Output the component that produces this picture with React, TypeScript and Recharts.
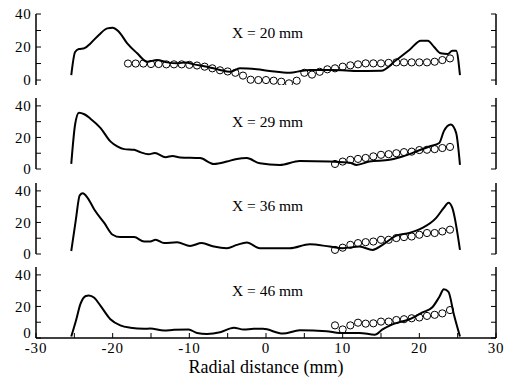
import React from "react";
import {
  ComposedChart,
  Line,
  Scatter,
  XAxis,
  YAxis,
  Customized,
} from "recharts";

const xTicks = [-30, -25, -20, -15, -10, -5, 0, 5, 10, 15, 20, 25, 30];
const yTicks = [0, 10, 20, 30, 40];
const panelLabels = ["X = 20 mm", "X = 29 mm", "X = 36 mm", "X = 46 mm"];
const axisTitle = "Radial distance (mm)";

// computed profiles (solid lines)
const simX1 = [-25.4, -24.9, -24.4, -23.7, -22.9, -21.8, -20.7, -20.0, -19.2, -18.1, -16.8, -15.5, -14.2, -12.9, -11.6, -10.5, -9.4, -7.7, -6.0, -4.7, -3.4, -1.2, 0.5, 3.1, 4.8, 5.7, 8.7, 12.2, 15.0, 17.0, 18.7, 20.2, 21.1, 21.9, 22.8, 23.7, 24.3, 24.8, 25.3];
const simY1 = [3, 17, 18.8, 19.2, 22.2, 27.3, 31.3, 31.7, 29.3, 22.2, 16.2, 11.1, 12.1, 10.7, 10.1, 10.7, 9.5, 8.1, 6.1, 5, 7.1, 6.5, 5.5, 4.4, 5.7, 6.1, 6.1, 5.5, 5.6, 12.1, 18.2, 23.8, 23.8, 20.2, 16.2, 15.8, 17.8, 17.8, 3];

const simX2 = [-25.4, -24.9, -24.4, -23.7, -22.9, -21.6, -20.3, -19.4, -18.5, -17.2, -16.4, -15.3, -14.5, -13.1, -12.2, -11.2, -8.6, -6.8, -5.1, -3.8, -2.5, -0.8, 1.8, 4.4, 8.3, 10.9, 11.8, 13.5, 16.1, 17.8, 19.6, 21.3, 22.6, 23.2, 24.1, 24.8, 25.3];
const simY2 = [3.2, 28.2, 35.7, 34.7, 31.9, 26.1, 17.5, 14.3, 12.6, 12.2, 10.7, 9.4, 10.1, 7.5, 8.3, 7.3, 6.9, 3.2, 4.7, 6.4, 6.9, 3.6, 2.6, 5.1, 4.7, 4.0, 2.6, 4.7, 5.8, 7.9, 11.1, 14.3, 16.5, 24, 28.2, 22.9, 2.6];

const simX3 = [-25.4, -24.8, -24.3, -23.9, -23.3, -22.4, -21.1, -20.0, -19.0, -17.2, -15.9, -15.1, -14.4, -13.3, -11.6, -9.9, -8.4, -6.8, -5.1, -3.8, -2.5, -0.8, 3.1, 5.7, 8.3, 10.0, 12.2, 13.9, 15.2, 17.0, 18.7, 20.4, 22.2, 23.2, 23.8, 24.3, 25.3];
const simY3 = [1.9, 21.8, 37.2, 38.5, 35.8, 28.2, 19.7, 12.2, 10.7, 10.7, 7.9, 7.9, 9.0, 6.9, 7.5, 5.1, 6.9, 4.7, 3.7, 5.8, 7.3, 3.7, 3.7, 6.2, 4.7, 3.7, 4.7, 2.6, 5.8, 11.6, 13.3, 16.5, 22.9, 29.3, 32.5, 29.3, 2.6];

const simX4 = [-25.4, -24.8, -24.2, -23.5, -23.1, -22.4, -21.6, -20.3, -19.0, -17.7, -15.9, -15.1, -13.3, -12.0, -10.1, -9.0, -7.7, -6.0, -4.2, -2.9, -1.6, -0.4, 2.2, 4.4, 7.9, 9.6, 12.2, 14.2, 15.2, 16.5, 18.7, 20.4, 21.7, 22.6, 23.2, 23.8, 24.5, 25.3];
const simY4 = [1.0, 10.8, 21.6, 26.6, 27.0, 25.5, 20.5, 11.9, 8.0, 6.5, 5.8, 6.0, 4.7, 5.2, 5.4, 3.2, 2.6, 3.6, 6.5, 5.4, 5.8, 5.8, 2.8, 4.9, 4.3, 3.2, 3.2, 2.1, 5.4, 8.6, 11.9, 16.2, 19.5, 26.0, 30.9, 29.2, 15.1, 1.0];

// measurements (open circles)
const expX1 = [-18, -17, -16, -15, -14, -13, -12, -11, -10, -9, -8, -7, -6, -5, -4, -3, -2, -1, 0, 1, 2, 3, 4, 5, 6, 7, 8, 9, 10, 11, 12, 13, 14, 15, 16, 17, 18, 19, 20, 21, 22, 23, 24];
const expY1 = [10, 10, 10, 9.7, 9.7, 9.5, 9.5, 9.5, 9.2, 8.8, 8.1, 7.1, 5.9, 5.2, 4.4, 2.7, 0.2, 0, 0, -0.4, -1, -2, -0.4, 4.4, 3.3, 5, 6.5, 7.1, 8.1, 8.9, 9.5, 10.1, 10.1, 10.1, 10.4, 10.7, 10.7, 10.7, 10.7, 10.7, 11.1, 12.1, 13.1];

const expX2 = [9, 10, 11, 12, 13, 14, 15, 16, 17, 18, 19, 20, 21, 22, 23, 24];
const expY2 = [3.2, 4.7, 5.8, 6.4, 7, 8, 9, 9.4, 10, 10.7, 11, 12, 12.2, 12.6, 13.3, 14];

const expX3 = [9, 10, 11, 12, 13, 14, 15, 16, 17, 18, 19, 20, 21, 22, 23, 24];
const expY3 = [2.6, 4, 5.8, 6.9, 7.5, 7.9, 9, 9, 10.1, 10.7, 11.1, 12.2, 13.3, 13.3, 14.3, 15.4];

const expX4 = [9, 10, 11, 12, 13, 14, 15, 16, 17, 18, 19, 20, 21, 22, 23, 24];
const expY4 = [8, 5.4, 8, 9.7, 9.1, 9.3, 10.4, 10.4, 11.4, 11.9, 12.5, 13, 14, 14.7, 15.6, 17.7];

const zip = (xs: number[], ys: number[]) => xs.map((x, i) => ({ x, y: ys[i] }));

const panels = [
  { top: 14, domain: [-3, 40], sim: zip(simX1, simY1), exp: zip(expX1, expY1), labelY: 24 },
  { top: 98, domain: [0, 45], sim: zip(simX2, simY2), exp: zip(expX2, expY2), labelY: 28.5 },
  { top: 183, domain: [0, 45], sim: zip(simX3, simY3), exp: zip(expX3, expY3), labelY: 28 },
  { top: 267, domain: [0, 45], sim: zip(simX4, simY4), exp: zip(expX4, expY4), labelY: 28.5 },
];

const W = 509;
const PANEL_H = 71;
const SERIF = '"Liberation Serif", "Times New Roman", serif';
const frame = { stroke: "#000", strokeWidth: 1.5 };
const tickLine = { stroke: "#000", strokeWidth: 1 };

const OpenCircle = (p: any) => (
  <circle cx={p.cx} cy={p.cy} r={3.6} fill="none" stroke="#000" strokeWidth={1} />
);

// y tick label; the bottom panel lifts its "0" a bit, as in the original
const YTick = (props: any) => {
  const { x, y, payload, lift } = props;
  const v = payload.value;
  if (v % 20 !== 0) return null;
  const dy = lift && v === 0 ? -5 : 0;
  return (
    <text x={x} y={y + dy} dy="0.35em" textAnchor="end" fill="#000" fontSize={15} letterSpacing={0.8}>
      {v}
    </text>
  );
};

const Panel = ({ idx }: { idx: number }) => {
  const p = panels[idx];
  const last = idx === panels.length - 1;
  const bottomH = last ? 43 : 0;
  return (
    <div style={{ position: "absolute", left: 0, top: p.top }}>
      <ComposedChart
        width={W}
        height={PANEL_H + bottomH}
        margin={{ top: 0, right: 0, bottom: 0, left: 0 }}
      >
        <XAxis
          xAxisId="b"
          dataKey="x"
          type="number"
          domain={[-30, 30]}
          ticks={xTicks}
          interval={0}
          height={bottomH}
          axisLine={frame}
          tickLine={tickLine}
          tickSize={-5}
          tickMargin={last ? 9 : 0}
          tick={{ fill: "#000", fontSize: 15, letterSpacing: 0.8 }}
          tickFormatter={(v: number) => (last && v % 10 === 0 ? String(v) : "")}
          label={
            last
              ? { value: axisTitle, position: "insideBottom", offset: 8, fill: "#000", fontSize: 18 }
              : undefined
          }
          allowDataOverflow
        />
        <XAxis
          xAxisId="t"
          orientation="top"
          dataKey="x"
          type="number"
          domain={[-30, 30]}
          ticks={xTicks}
          interval={0}
          height={0}
          axisLine={frame}
          tickLine={tickLine}
          tickSize={-5}
          tickFormatter={() => ""}
          allowDataOverflow
        />
        <YAxis
          yAxisId="l"
          dataKey="y"
          type="number"
          domain={p.domain}
          ticks={yTicks}
          interval={0}
          width={36}
          axisLine={frame}
          tickLine={tickLine}
          tickSize={-5}
          tickMargin={9.5}
          tick={<YTick lift={last} />}
          allowDataOverflow
        />
        <YAxis
          yAxisId="r"
          orientation="right"
          dataKey="y"
          type="number"
          domain={p.domain}
          ticks={yTicks}
          interval={0}
          width={13}
          axisLine={frame}
          tickLine={tickLine}
          tickSize={-5}
          tickFormatter={() => ""}
          allowDataOverflow
        />
        <Line
          xAxisId="b"
          yAxisId="l"
          data={p.sim}
          dataKey="y"
          type="monotone"
          stroke="#000"
          strokeWidth={2}
          dot={false}
          isAnimationActive={false}
        />
        <Scatter
          xAxisId="b"
          yAxisId="l"
          data={p.exp}
          dataKey="y"
          shape={OpenCircle}
          isAnimationActive={false}
        />
        <Customized
          component={() => (
            <text x={232} y={p.labelY} fontSize={15.5} fill="#000">
              {panelLabels[idx]}
            </text>
          )}
        />
      </ComposedChart>
    </div>
  );
};

export default function App() {
  return (
    <div
      style={{
        position: "absolute",
        left: 0,
        top: 0,
        width: W,
        height: 381,
        background: "#fff",
        fontFamily: SERIF,
      }}
    >
      <style>{`
        svg.recharts-surface { overflow: visible; }
        svg.recharts-surface text { font-family: "Liberation Serif", "Times New Roman", serif; }
      `}</style>
      {panels.map((_, i) => (
        <Panel key={i} idx={i} />
      ))}
    </div>
  );
}
